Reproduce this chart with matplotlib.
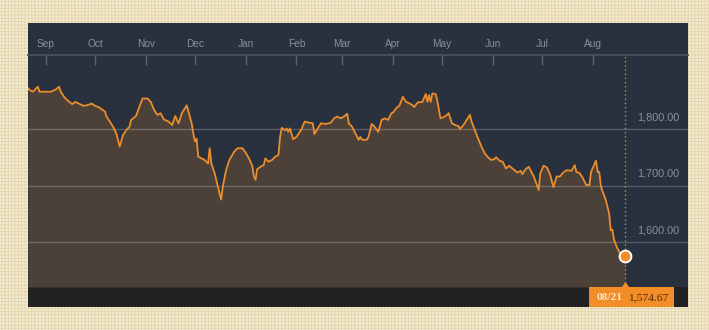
import matplotlib
matplotlib.use("Agg")
import matplotlib.pyplot as plt
import matplotlib.dates as mdates
import matplotlib.patches as mpatches
import pandas as pd

plt.rcParams["font.family"] = ["Liberation Sans", "DejaVu Sans"]
plt.rcParams["hatch.linewidth"] = 0.6

# ---------------- data ----------------
dates = [
    # Aug/Sep 2014
    "2014-08-21", "2014-08-22", "2014-08-24", "2014-08-27", "2014-08-28",
    "2014-09-02", "2014-09-04", "2014-09-07", "2014-09-09", "2014-09-10",
    "2014-09-12", "2014-09-14", "2014-09-17", "2014-09-19", "2014-09-21",
    "2014-09-24", "2014-09-26", "2014-09-29",
    # Oct
    "2014-10-01", "2014-10-03", "2014-10-07", "2014-10-08", "2014-10-10",
    "2014-10-12", "2014-10-14", "2014-10-16", "2014-10-18", "2014-10-20",
    "2014-10-22", "2014-10-23", "2014-10-26", "2014-10-28", "2014-10-30",
    # Nov
    "2014-11-02", "2014-11-04", "2014-11-06", "2014-11-08", "2014-11-10",
    "2014-11-12", "2014-11-15", "2014-11-17", "2014-11-19", "2014-11-20",
    "2014-11-21", "2014-11-23", "2014-11-26", "2014-11-27", "2014-11-29",
    "2014-11-30",
    # Dec
    "2014-12-01", "2014-12-02", "2014-12-03", "2014-12-05", "2014-12-07",
    "2014-12-09", "2014-12-10", "2014-12-11", "2014-12-13", "2014-12-15",
    "2014-12-17", "2014-12-18", "2014-12-20", "2014-12-22", "2014-12-25",
    "2014-12-27", "2014-12-30",
    # Jan 2015
    "2015-01-01", "2015-01-03", "2015-01-05", "2015-01-06", "2015-01-07",
    "2015-01-08", "2015-01-11", "2015-01-12", "2015-01-13", "2015-01-15",
    "2015-01-17", "2015-01-19", "2015-01-21", "2015-01-22", "2015-01-23",
    "2015-01-25", "2015-01-26", "2015-01-27", "2015-01-28", "2015-01-30",
    # Feb
    "2015-02-01", "2015-02-04", "2015-02-06", "2015-02-09", "2015-02-11",
    "2015-02-12", "2015-02-14", "2015-02-16", "2015-02-19", "2015-02-22",
    "2015-02-24", "2015-02-26", "2015-02-28",
    # Mar
    "2015-03-02", "2015-03-04", "2015-03-05", "2015-03-07", "2015-03-09",
    "2015-03-11", "2015-03-12", "2015-03-13", "2015-03-16", "2015-03-17",
    "2015-03-19", "2015-03-21", "2015-03-23", "2015-03-25", "2015-03-27",
    "2015-03-29", "2015-03-31",
    # Apr
    "2015-04-01", "2015-04-03", "2015-04-05", "2015-04-07", "2015-04-09",
    "2015-04-12", "2015-04-14", "2015-04-16", "2015-04-19", "2015-04-21",
    "2015-04-22", "2015-04-23", "2015-04-24", "2015-04-25", "2015-04-27",
    "2015-04-28", "2015-04-30",
    # May
    "2015-05-02", "2015-05-04", "2015-05-05", "2015-05-07", "2015-05-09",
    "2015-05-11", "2015-05-12", "2015-05-14", "2015-05-16", "2015-05-18",
    "2015-05-19", "2015-05-21", "2015-05-23", "2015-05-25", "2015-05-27",
    "2015-05-29", "2015-05-31",
    # Jun
    "2015-06-02", "2015-06-03", "2015-06-05", "2015-06-07", "2015-06-09",
    "2015-06-11", "2015-06-13", "2015-06-16", "2015-06-18", "2015-06-19",
    "2015-06-21", "2015-06-23", "2015-06-24", "2015-06-26", "2015-06-29",
    "2015-06-30",
    # Jul
    "2015-07-02", "2015-07-04", "2015-07-06", "2015-07-08", "2015-07-10",
    "2015-07-12", "2015-07-14", "2015-07-16", "2015-07-19", "2015-07-21",
    "2015-07-22", "2015-07-24", "2015-07-26", "2015-07-28", "2015-07-30",
    "2015-07-31",
    # Aug
    "2015-08-03", "2015-08-04", "2015-08-05", "2015-08-06", "2015-08-09",
    "2015-08-11", "2015-08-12", "2015-08-13", "2015-08-14", "2015-08-16",
    "2015-08-18", "2015-08-20", "2015-08-21",
]

values = [
    # Aug/Sep 2014
    1872, 1869, 1866, 1875, 1866,
    1866, 1866, 1870, 1875, 1866,
    1857, 1851, 1844, 1848, 1845,
    1841, 1842, 1845,
    # Oct
    1841, 1839, 1831, 1822, 1813,
    1804, 1792, 1769, 1789, 1798,
    1804, 1816, 1823, 1839, 1854,
    # Nov
    1854, 1848, 1834, 1825, 1828,
    1817, 1813, 1807, 1823, 1816,
    1810, 1828, 1842, 1831, 1810,
    1792,
    # Dec
    1778, 1783, 1751, 1748, 1745,
    1739, 1766, 1739, 1722, 1698,
    1675, 1698, 1727, 1745, 1760,
    1766, 1766,
    # Jan 2015
    1758, 1748, 1735, 1716, 1710,
    1729, 1735, 1736, 1748, 1742,
    1745, 1751, 1754, 1786, 1802,
    1798, 1801, 1795, 1801, 1782,
    # Feb
    1786, 1799, 1813, 1811, 1810,
    1791, 1801, 1810, 1809, 1811,
    1819, 1822, 1819,
    # Mar
    1822, 1827, 1810, 1804, 1792,
    1781, 1786, 1781, 1781, 1786,
    1809, 1803, 1795, 1816, 1819,
    1816, 1828,
    # Apr
    1829, 1837, 1842, 1857, 1848,
    1844, 1839, 1847, 1848, 1862,
    1848, 1860, 1848, 1863, 1862,
    1851, 1819,
    # May
    1821, 1825, 1828, 1810, 1807,
    1805, 1800, 1807, 1816, 1825,
    1813, 1798, 1783, 1769, 1757,
    1750, 1745,
    # Jun
    1747, 1750, 1744, 1742, 1730,
    1735, 1730, 1723, 1726, 1720,
    1729, 1733, 1727, 1716, 1692,
    1722,
    # Jul
    1735, 1732, 1719, 1697, 1716,
    1716, 1723, 1727, 1726, 1736,
    1724, 1722, 1713, 1701, 1701,
    1724,
    # Aug
    1744, 1724, 1724, 1698, 1674,
    1651, 1621, 1622, 1604, 1589,
    1579, 1576, 1574.67,
]

month_ticks = ["2014-09-01", "2014-10-01", "2014-11-01", "2014-12-01",
               "2015-01-01", "2015-02-01", "2015-03-01", "2015-04-01",
               "2015-05-01", "2015-06-01", "2015-07-01", "2015-08-01"]
month_labels = ["Sep", "Oct", "Nov", "Dec", "Jan", "Feb", "Mar", "Apr",
                "May", "Jun", "Jul", "Aug"]
y_ticks = [1600, 1700, 1800]
y_tick_labels = ["1,600.00", "1,700.00", "1,800.00"]
last_date_label = "08/21"
last_value_label = "1,574.67"
x_start = "2014-08-21"
x_end = "2015-09-28 05:00"
y_min, y_max = 1520.4, 1931.0

# ---------------- colours ----------------
BG = "#f3ebd2"
PANEL = "#29313e"
FILL = "#4b4139"
LINE = "#ec8d2c"
STRIP = "#222222"
TXT = "#8a9099"
BOX = "#f28d27"

W, H = 709, 330
fig = plt.figure(figsize=(W / 100, H / 100), dpi=100)
fig.patch.set_facecolor(BG)


def rect_px(x0, y0, x1, y1, **kw):
    """Rectangle given in pixel coords (y from top)."""
    r = mpatches.Rectangle((x0 / W, 1 - y1 / H), (x1 - x0) / W, (y1 - y0) / H,
                           transform=fig.transFigure, **kw)
    fig.add_artist(r)
    return r


# patterned background
rect_px(0, 0, W, H, facecolor="none", edgecolor="#e4d5a8", hatch="+++++",
        lw=0, zorder=-3)
# panel and bottom strip
rect_px(28, 23, 688, 307, facecolor=PANEL, edgecolor="none", zorder=-1)
rect_px(28, 287, 688, 307, facecolor=STRIP, edgecolor="none", zorder=-1)

ax = fig.add_axes([28 / W, 1 - 287 / H, 660 / W, 232 / H])
ax.set_facecolor("none")

x = pd.to_datetime(dates)
ax.fill_between(x, values, y_min, color=FILL, lw=0, zorder=1)
ax.plot(x, values, color=LINE, lw=1.3, zorder=3, solid_joinstyle="round")

ax.set_xlim(pd.Timestamp(x_start), pd.Timestamp(x_end))
ax.set_ylim(y_min, y_max)

# month ticks on top
ax.xaxis.tick_top()
ax.set_xticks(pd.to_datetime(month_ticks))
ax.set_xticklabels(month_labels)
ax.tick_params(axis="x", direction="in", length=7.3, width=1.0,
               color="#59626d", pad=4.6, labelsize=7.3, labelcolor=TXT)

# grid lines
ax.set_yticks(y_ticks)
ax.tick_params(axis="y", length=0, labelleft=False, labelright=False)
ax.grid(axis="y", color="white", alpha=0.22, lw=1.0, zorder=2)
ax.grid(axis="x", visible=False)

for v, lab in zip(y_ticks, y_tick_labels):
    ax.annotate(lab, xy=(0.9864, v), xycoords=ax.get_yaxis_transform(),
                xytext=(0, 8.6), textcoords="offset points",
                ha="right", va="center", fontsize=7.8, color=TXT)

for side in ["left", "right", "bottom"]:
    ax.spines[side].set_visible(False)
ax.spines["top"].set_color("#48515d")
ax.spines["top"].set_linewidth(1.3)

# last point marker and dotted line
last_x = x[-1]
last_v = values[-1]
ax.axvline(last_x, color="#c98a3c", lw=1.0, ls=(0, (1, 2)), zorder=2.5)
ax.plot([last_x], [last_v], marker="o", ms=8.5, mfc=BOX, mec="white",
        mew=1.4, zorder=5, clip_on=False)

# label box at the bottom
fig.canvas.draw()
px = ax.transData.transform((mdates.date2num(last_x), last_v))[0]
bx0, bx1 = px - 36, px + 49
rect_px(bx0, 287, bx1, 307, facecolor=BOX, edgecolor="none", zorder=5)
tri = mpatches.Polygon([((px - 4) / W, 1 - 287.5 / H), ((px + 4) / W, 1 - 287.5 / H),
                        (px / W, 1 - 282 / H)], closed=True,
                       transform=fig.transFigure, facecolor=BOX,
                       edgecolor="none", zorder=5)
fig.add_artist(tri)
fig.text((px - 16) / W, 1 - 298 / H, last_date_label, ha="center", va="center",
         fontsize=8.2, color="#fde4c4", fontweight="bold",
         family=["Liberation Serif", "DejaVu Serif"], zorder=6)
fig.text((px + 23) / W, 1 - 298 / H, last_value_label, ha="center", va="center",
         fontsize=8.2, color="#4a2a10",
         family=["Liberation Serif", "DejaVu Serif"], zorder=6)

fig.savefig("out.png", dpi=100, facecolor=fig.get_facecolor())
